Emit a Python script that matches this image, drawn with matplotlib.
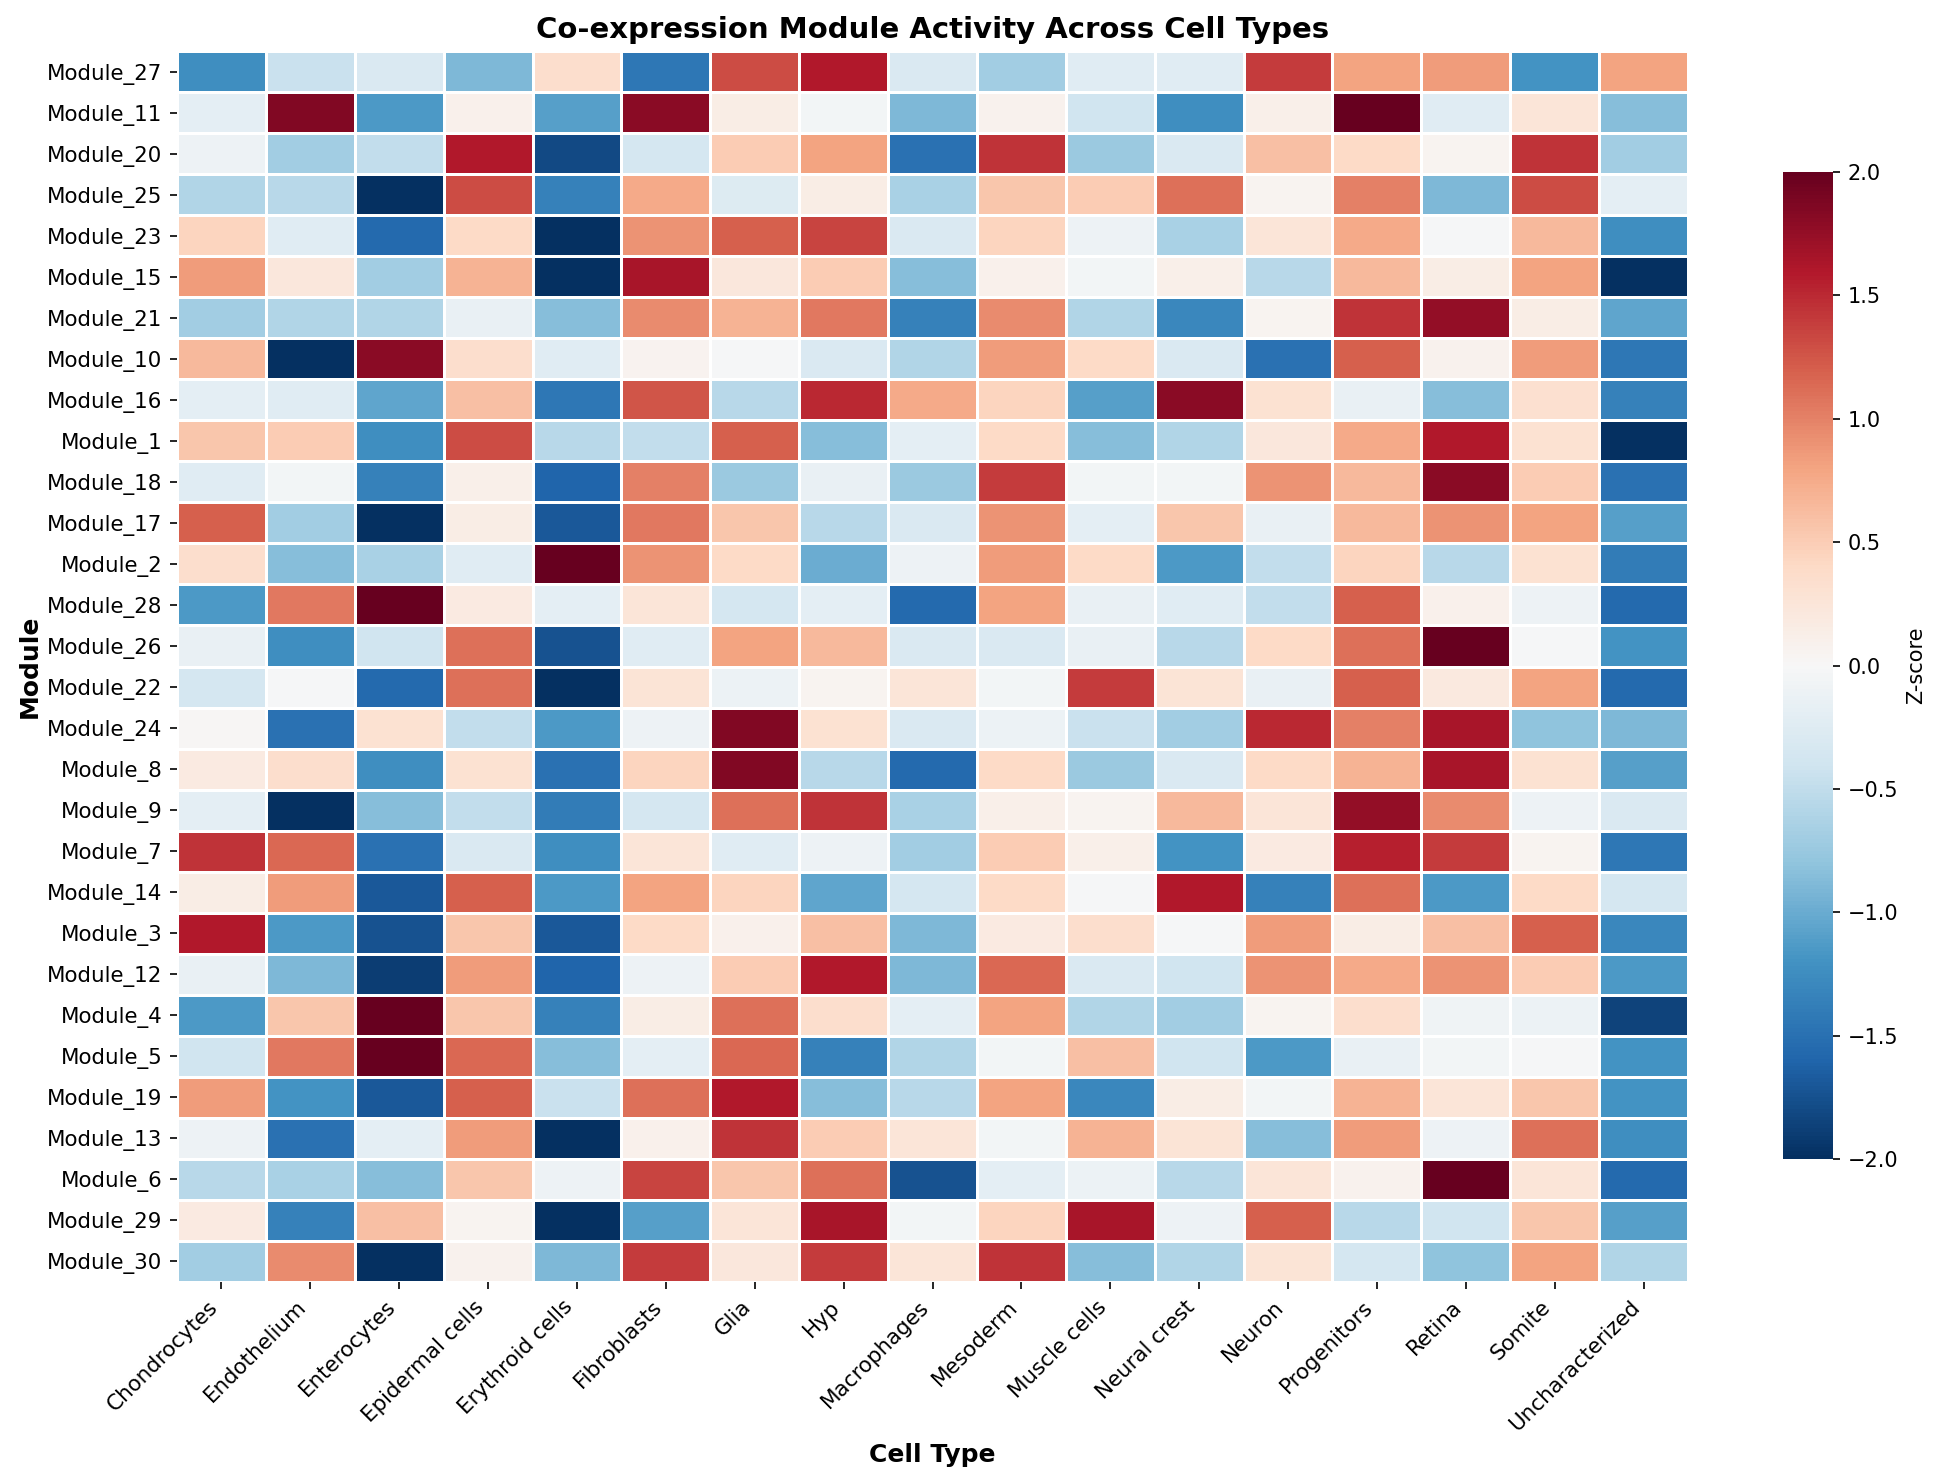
# -*- coding: utf-8 -*-
"""Co-expression module activity heatmap (z-scores read off the reference)."""
import numpy as np
import matplotlib
matplotlib.use("Agg")
import matplotlib.pyplot as plt

W, H = 1941, 1480
DPI = 150

cell_types = ["Chondrocytes", "Endothelium", "Enterocytes", "Epidermal cells", "Erythroid cells",
              "Fibroblasts", "Glia", "Hyp", "Macrophages", "Mesoderm", "Muscle cells",
              "Neural crest", "Neuron", "Progenitors", "Retina", "Somite", "Uncharacterized"]

modules = ["Module_27", "Module_11", "Module_20", "Module_25", "Module_23", "Module_15",
           "Module_21", "Module_10", "Module_16", "Module_1", "Module_18", "Module_17",
           "Module_2", "Module_28", "Module_26", "Module_22", "Module_24", "Module_8",
           "Module_9", "Module_7", "Module_14", "Module_3", "Module_12", "Module_4",
           "Module_5", "Module_19", "Module_13", "Module_6", "Module_29", "Module_30"]

m27 = [-1.25, -0.45, -0.3, -0.9, 0.35, -1.45, 1.3, 1.6, -0.3, -0.7, -0.25, -0.25, 1.4, 0.8, 0.85, -1.2, 0.8]
m11 = [-0.2, 1.85, -1.15, 0.1, -1.1, 1.8, 0.15, -0.05, -0.9, 0.08, -0.4, -1.25, 0.12, 2.0, -0.25, 0.25, -0.85]
m20 = [-0.1, -0.7, -0.5, 1.6, -1.8, -0.35, 0.5, 0.8, -1.5, 1.45, -0.75, -0.3, 0.6, 0.4, 0.05, 1.45, -0.7]
m25 = [-0.6, -0.55, -2.0, 1.3, -1.35, 0.75, -0.28, 0.15, -0.65, 0.55, 0.5, 1.1, 0.06, 1.0, -0.9, 1.3, -0.2]
m23 = [0.45, -0.25, -1.55, 0.4, -2.0, 0.9, 1.2, 1.35, -0.3, 0.45, -0.1, -0.65, 0.25, 0.75, -0.03, 0.65, -1.25]
m15 = [0.85, 0.22, -0.7, 0.7, -2.0, 1.65, 0.22, 0.5, -0.85, 0.1, -0.05, 0.12, -0.55, 0.65, 0.15, 0.8, -2.0]
m21 = [-0.7, -0.6, -0.6, -0.15, -0.85, 0.95, 0.7, 1.05, -1.35, 0.95, -0.6, -1.3, 0.06, 1.45, 1.75, 0.15, -1.05]
m10 = [0.65, -2.0, 1.8, 0.35, -0.25, 0.07, -0.02, -0.3, -0.6, 0.85, 0.4, -0.3, -1.5, 1.2, 0.08, 0.85, -1.45]
m16 = [-0.2, -0.25, -1.05, 0.6, -1.45, 1.25, -0.55, 1.5, 0.75, 0.45, -1.1, 1.8, 0.3, -0.15, -0.85, 0.32, -1.35]
m1 = [0.55, 0.5, -1.25, 1.3, -0.55, -0.5, 1.2, -0.85, -0.2, 0.4, -0.85, -0.6, 0.22, 0.75, 1.6, 0.3, -2.0]
m18 = [-0.25, -0.05, -1.35, 0.12, -1.6, 1.0, -0.75, -0.15, -0.75, 1.4, -0.05, -0.05, 0.9, 0.65, 1.8, 0.5, -1.5]
m17 = [1.2, -0.7, -2.0, 0.15, -1.7, 1.05, 0.55, -0.55, -0.3, 0.9, -0.2, 0.55, -0.15, 0.65, 0.9, 0.8, -1.1]
m2 = [0.35, -0.85, -0.65, -0.25, 2.0, 0.9, 0.4, -1.0, -0.1, 0.85, 0.4, -1.15, -0.5, 0.45, -0.55, 0.3, -1.4]
m28 = [-1.15, 1.05, 2.0, 0.18, -0.2, 0.25, -0.35, -0.2, -1.55, 0.8, -0.15, -0.25, -0.5, 1.2, 0.1, -0.1, -1.55]
m26 = [-0.15, -1.25, -0.4, 1.1, -1.75, -0.25, 0.8, 0.65, -0.3, -0.3, -0.15, -0.55, 0.4, 1.1, 2.0, -0.03, -1.2]
m22 = [-0.35, -0.03, -1.55, 1.1, -2.0, 0.28, -0.12, 0.05, 0.25, -0.05, 1.4, 0.28, -0.15, 1.2, 0.2, 0.8, -1.55]
m24 = [0.03, -1.5, 0.3, -0.5, -1.15, -0.1, 1.85, 0.3, -0.3, -0.12, -0.45, -0.7, 1.5, 1.0, 1.65, -0.8, -0.9]
m8 = [0.18, 0.35, -1.25, 0.3, -1.5, 0.45, 1.85, -0.55, -1.55, 0.4, -0.75, -0.3, 0.4, 0.7, 1.65, 0.3, -1.1]
m9 = [-0.2, -2.0, -0.85, -0.5, -1.4, -0.35, 1.1, 1.45, -0.65, 0.12, 0.05, 0.65, 0.25, 1.75, 0.95, -0.1, -0.3]
m7 = [1.45, 1.15, -1.5, -0.3, -1.25, 0.25, -0.25, -0.1, -0.7, 0.5, 0.12, -1.2, 0.18, 1.55, 1.4, 0.06, -1.45]
m14 = [0.15, 0.85, -1.7, 1.2, -1.15, 0.8, 0.45, -1.05, -0.35, 0.4, -0.03, 1.6, -1.35, 1.1, -1.15, 0.4, -0.35]
m3 = [1.6, -1.15, -1.75, 0.55, -1.7, 0.4, 0.1, 0.6, -0.9, 0.18, 0.35, -0.03, 0.85, 0.15, 0.6, 1.2, -1.3]
m12 = [-0.15, -0.9, -1.9, 0.85, -1.6, -0.1, 0.5, 1.6, -0.9, 1.15, -0.3, -0.4, 0.9, 0.75, 0.9, 0.5, -1.15]
m4 = [-1.15, 0.55, 2.0, 0.55, -1.35, 0.15, 1.1, 0.35, -0.2, 0.8, -0.6, -0.7, 0.05, 0.35, -0.08, -0.12, -1.85]
m5 = [-0.4, 1.05, 2.0, 1.15, -0.85, -0.2, 1.15, -1.35, -0.6, -0.05, 0.6, -0.4, -1.15, -0.15, -0.05, -0.03, -1.2]
m19 = [0.85, -1.2, -1.7, 1.2, -0.45, 1.1, 1.6, -0.85, -0.55, 0.8, -1.3, 0.15, -0.05, 0.7, 0.25, 0.55, -1.2]
m13 = [-0.1, -1.5, -0.2, 0.85, -2.0, 0.1, 1.45, 0.5, 0.25, -0.05, 0.7, 0.28, -0.85, 0.85, -0.1, 1.1, -1.25]
m6 = [-0.55, -0.65, -0.85, 0.55, -0.1, 1.35, 0.55, 1.1, -1.75, -0.2, -0.12, -0.55, 0.25, 0.08, 2.0, 0.25, -1.55]
m29 = [0.18, -1.35, 0.6, 0.05, -2.0, -1.1, 0.25, 1.65, -0.05, 0.45, 1.65, -0.1, 1.2, -0.55, -0.4, 0.55, -1.1]
m30 = [-0.7, 0.95, -2.0, 0.08, -0.9, 1.4, 0.22, 1.4, 0.25, 1.45, -0.85, -0.6, 0.28, -0.35, -0.8, 0.8, -0.6]

zscores = np.array([m27, m11, m20, m25, m23, m15, m21, m10, m16, m1, m18, m17, m2, m28, m26,
                    m22, m24, m8, m9, m7, m14, m3, m12, m4, m5, m19, m13, m6, m29, m30])


def px_axes(fig, left, top, right, bottom):
    # pixel box -> figure fraction
    return fig.add_axes([left / W, 1 - bottom / H, (right - left) / W, (bottom - top) / H])


fig = plt.figure(figsize=(W / DPI, H / DPI), dpi=DPI)
ax = px_axes(fig, 177, 51, 1688, 1282)

mesh = ax.pcolormesh(zscores, cmap="RdBu_r", vmin=-2, vmax=2, edgecolors="white", linewidth=1.4)
ax.set_xlim(0, len(cell_types))
ax.set_ylim(len(modules), 0)
for side in ax.spines.values():
    side.set_visible(False)

ax.set_xticks(np.arange(len(cell_types)) + 0.5)
ax.set_xticklabels(cell_types, rotation=45, ha="right", fontsize=10.25)
ax.set_yticks(np.arange(len(modules)) + 0.5)
ax.set_yticklabels(modules, rotation=0, fontsize=10.25)

ax.set_title("Co-expression Module Activity Across Cell Types", fontsize=14, fontweight="bold", pad=6)
ax.set_xlabel("Cell Type", fontsize=12, fontweight="bold")
ax.set_ylabel("Module", fontsize=12, fontweight="bold", labelpad=2.5)

cax = px_axes(fig, 1783, 172, 1833, 1159)
cbar = fig.colorbar(mesh, cax=cax)
cbar.set_ticks(np.arange(-2, 2.5, 0.5))
cbar.ax.tick_params(labelsize=10)
cbar.set_label("Z-score", fontsize=10)
cbar.outline.set_visible(False)

fig.savefig("out.png", dpi=DPI)
